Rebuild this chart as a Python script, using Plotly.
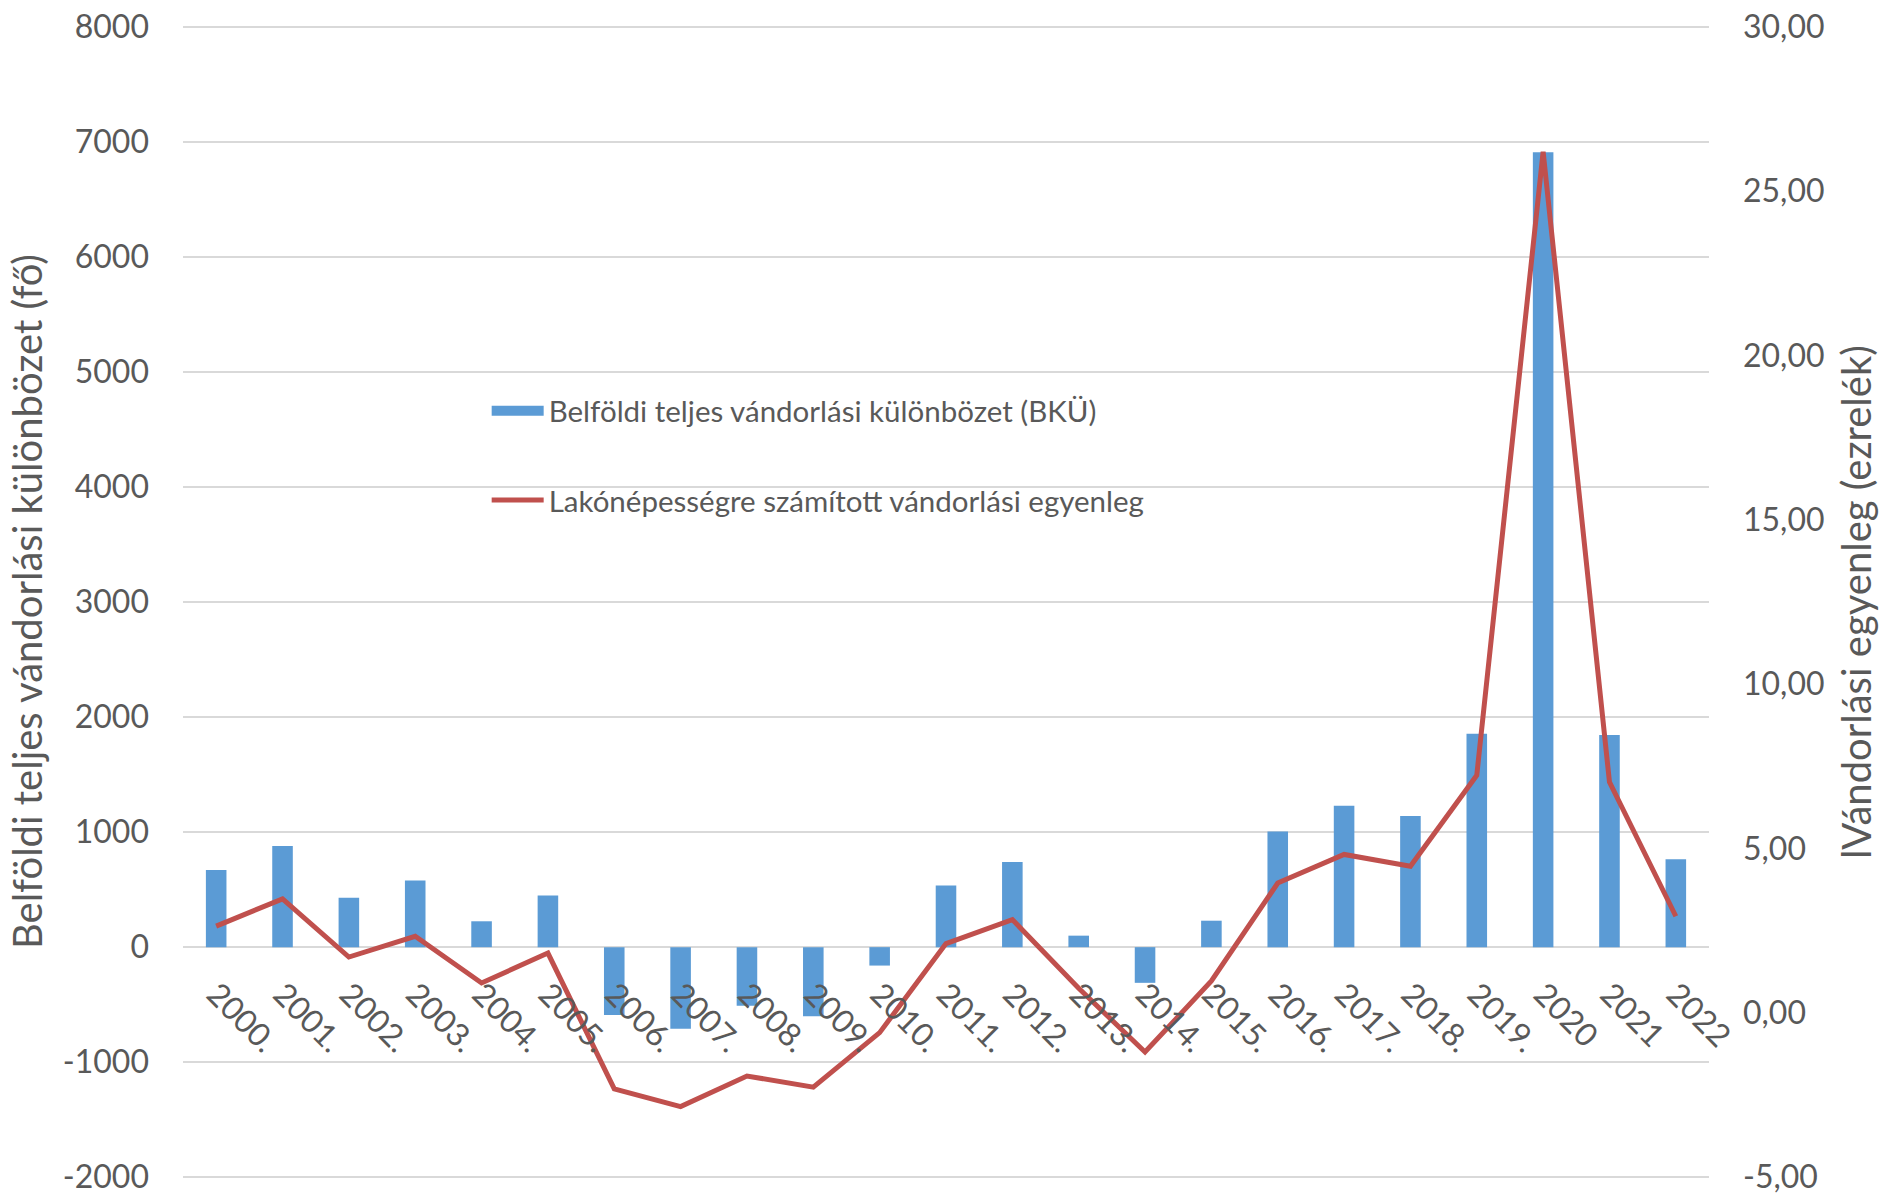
import plotly.graph_objects as go

years = ["2000.", "2001.", "2002.", "2003.", "2004.", "2005.", "2006.", "2007.",
         "2008.", "2009.", "2010.", "2011.", "2012.", "2013.", "2014.", "2015.",
         "2016.", "2017.", "2018.", "2019.", "2020", "2021", "2022"]

bku = [670, 880, 430, 580, 225, 450, -590, -710, -510, -600, -160, 535,
       740, 100, -310, 230, 1005, 1230, 1140, 1855, 6910, 1845, 765]

egyenleg = [2.64, 3.47, 1.70, 2.33, 0.91, 1.82, -2.31, -2.85, -1.92, -2.26,
            -0.60, 2.11, 2.84, 0.75, -1.19, 0.97, 3.95, 4.82, 4.46, 7.23,
            26.2, 7.02, 2.94]

left_ticks = [-2000, -1000, 0, 1000, 2000, 3000, 4000, 5000, 6000, 7000, 8000]
left_labels = ["-2000", "-1000", "0", "1000", "2000", "3000", "4000", "5000",
               "6000", "7000", "8000"]
right_ticks = [-5, 0, 5, 10, 15, 20, 25, 30]
right_labels = ["-5,00", "0,00", "5,00", "10,00", "15,00", "20,00", "25,00", "30,00"]

bar_name = "Belföldi teljes vándorlási különbözet (BKÜ)"
line_name = "Lakónépességre számított vándorlási egyenleg"
left_title = "Belföldi teljes vándorlási különbözet (fő)"
right_title = "lVándorlási egyenleg (ezrelék)"

FONT = "Lato, 'Open Sans', sans-serif"
TXT = "#595959"
GRID = "#d9d9d9"
BLUE = "#5B9BD5"
RED = "#C0504D"

# small padding (~1.7 px) so the end gridlines are drawn
LPAD = 15
RPAD = LPAD * 35 / 10000

fig = go.Figure()
fig.add_trace(go.Bar(
    x=years, y=bku, name=bar_name, marker_color=BLUE,
    marker_line_width=0, width=0.31, showlegend=False, yaxis="y"))
# legend-only swatch for the bars (wide rectangle like the original)
fig.add_trace(go.Scatter(
    x=[None], y=[None], name=bar_name, mode="lines",
    line=dict(color=BLUE, width=18), legendgroup="a", yaxis="y"))
fig.add_trace(go.Scatter(
    x=years, y=egyenleg, name=line_name, mode="lines",
    line=dict(color=RED, width=5), legendgroup="b", yaxis="y2"))

fig.update_layout(
    width=1882, height=1195,
    margin=dict(l=183, r=173, t=25, b=16, autoexpand=False),
    paper_bgcolor="white", plot_bgcolor="white",
    font=dict(family=FONT, color=TXT, size=32),
    showlegend=True,
    legend=dict(x=0.199, y=0.688, xanchor="left", yanchor="top",
                font=dict(size=29.5, color=TXT), bgcolor="rgba(0,0,0,0)",
                traceorder="grouped", tracegroupgap=48, itemwidth=52),
    xaxis=dict(
        type="category", anchor="free", position=0.2,
        showgrid=False, showline=False, zeroline=False,
        tickangle=45, tickfont=dict(size=32, color=TXT),
        ticks="", ticklabelstandoff=20, ticklabeloverflow="allow",
        range=[-0.5, 22.5], automargin=False),
    yaxis=dict(
        range=[-2000 - LPAD, 8000 + LPAD], tickvals=left_ticks, ticktext=left_labels,
        showgrid=True, gridcolor=GRID, gridwidth=2,
        zeroline=True, zerolinecolor=GRID, zerolinewidth=2,
        showline=False, ticks="", ticklabelstandoff=33,
        ticklabeloverflow="allow",
        tickfont=dict(size=32, color=TXT), automargin=False),
    yaxis2=dict(
        range=[-5 - RPAD, 30 + RPAD], tickvals=right_ticks, ticktext=right_labels,
        overlaying="y", side="right", showgrid=False, zeroline=False,
        showline=False, ticks="", ticklabelstandoff=33,
        ticklabeloverflow="allow",
        tickfont=dict(size=32, color=TXT), automargin=False),
    bargap=0.69,
    annotations=[
        dict(text=left_title, xref="paper", yref="paper", x=0, y=0.5,
             xshift=-156, xanchor="center", yanchor="middle", textangle=-90,
             showarrow=False, font=dict(size=40, color=TXT)),
        dict(text=right_title, xref="paper", yref="paper", x=1, y=0.5,
             xshift=147, xanchor="center", yanchor="middle", textangle=-90,
             showarrow=False, font=dict(size=40, color=TXT)),
    ],
)

fig.write_html("out.html", config={"displayModeBar": False},
               post_script="document.body.style.margin='0';")
